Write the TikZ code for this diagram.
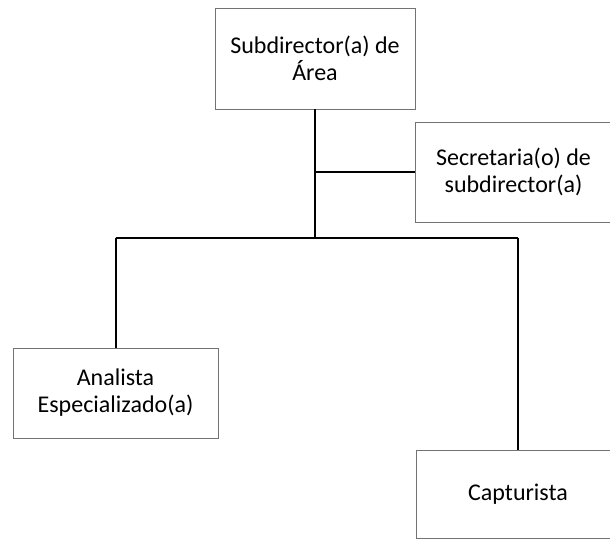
\documentclass[tikz,border=0pt]{standalone}
\usepackage{fontspec}
\setmainfont{Carlito}
\usepackage{tikz}
\usetikzlibrary{calc}

\tikzset{
  box/.style={draw=black!55, line width=0.4pt, rectangle, align=center,
    inner sep=0pt, font=\fontsize{12}{13.5}\selectfont},
  link/.style={line width=1pt, black}
}

\begin{document}
\begin{tikzpicture}[x=0.5pt, y=-0.5pt]
\useasboundingbox (0, 0) rectangle (610, 548);
\node[box, minimum width=100pt, minimum height=50.5pt] (sub) at (315, 58.5) {Subdirector(a) de\\ Área};
\node[box, minimum width=98.5pt, minimum height=50pt] (sec) at (513.5, 172) {Secretaria(o) de\\ subdirector(a)};
\node[box, minimum width=102.5pt, minimum height=45pt] (ana) at (115.5, 393) {Analista\\ Especializado(a)};
\node[box, minimum width=102pt, minimum height=44pt] (cap) at (518, 494) {Capturista};
\coordinate (j) at (315, 238);
\draw[link] (sub.south) -- (j); 
\draw[link] (sub.south |- sec.west) -- (sec.west); 
\draw[link] (ana.north |- j) -- (cap.north |- j); 
\draw[link] (ana.north |- j) -- (ana.north); 
\draw[link] (cap.north |- j) -- (cap.north); 
\end{tikzpicture}
\end{document}
